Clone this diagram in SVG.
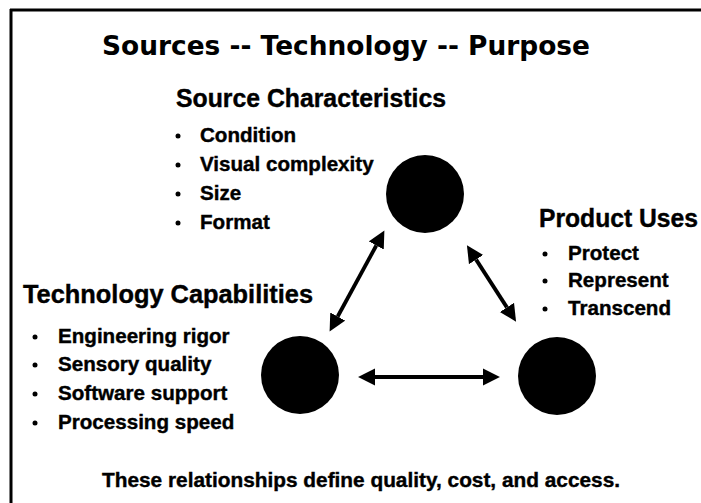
<svg xmlns="http://www.w3.org/2000/svg" width="701" height="503" viewBox="0 0 701 503">
<defs>
<style>
.t{font-family:"Liberation Sans",Arial,sans-serif;font-weight:bold;fill:#000;stroke:#000;stroke-width:0.4}
.h{font-size:25px}
.i{font-size:20.6px}
.title{font-family:"Comic Sans MS","DejaVu Sans",sans-serif;font-weight:bold;font-size:27px;fill:#000}
.node{fill:#000}
.b{fill:#000}
.arr{stroke:#000;stroke-width:3.8;fill:none;marker-start:url(#ah);marker-end:url(#ah)}
</style>
<marker id="ah" markerUnits="userSpaceOnUse" markerWidth="18" markerHeight="18" refX="0" refY="8" orient="auto-start-reverse" viewBox="0 0 17 16">
<path d="M0,0 L16,8 L0,16 Z" fill="#000"/>
</marker>
</defs>
<rect width="701" height="503" fill="#fff"/>
<path d="M10,10 H701 M11,9 V503" stroke="#000" stroke-width="3" fill="none"/>
<text class="title" x="102" y="55" textLength="488" lengthAdjust="spacingAndGlyphs">Sources -- Technology -- Purpose</text>

<g id="source">
<circle class="node" cx="425" cy="194" r="39"/>
<text class="t h" x="176" y="107" textLength="270" lengthAdjust="spacingAndGlyphs">Source Characteristics</text>
<circle class="b" cx="178" cy="136" r="2.5"/>
<circle class="b" cx="178" cy="165" r="2.5"/>
<circle class="b" cx="178" cy="194" r="2.5"/>
<circle class="b" cx="178" cy="223" r="2.5"/>
<text class="t i" x="200" y="142">Condition</text>
<text class="t i" x="200" y="171">Visual complexity</text>
<text class="t i" x="200" y="200">Size</text>
<text class="t i" x="200" y="229">Format</text>
</g>

<g id="technology">
<circle class="node" cx="300" cy="375" r="39"/>
<text class="t h" x="23" y="303" textLength="290" lengthAdjust="spacingAndGlyphs">Technology Capabilities</text>
<circle class="b" cx="35" cy="337" r="2.5"/>
<circle class="b" cx="35" cy="365" r="2.5"/>
<circle class="b" cx="35" cy="394" r="2.5"/>
<circle class="b" cx="35" cy="423" r="2.5"/>
<text class="t i" x="58" y="343">Engineering rigor</text>
<text class="t i" x="58" y="371">Sensory quality</text>
<text class="t i" x="58" y="400">Software support</text>
<text class="t i" x="58" y="429">Processing speed</text>
</g>

<g id="product">
<circle class="node" cx="557" cy="376" r="39"/>
<text class="t h" x="539" y="227" textLength="159" lengthAdjust="spacingAndGlyphs">Product Uses</text>
<circle class="b" cx="545" cy="254" r="2.5"/>
<circle class="b" cx="545" cy="281" r="2.5"/>
<circle class="b" cx="545" cy="309" r="2.5"/>
<text class="t i" x="568" y="260">Protect</text>
<text class="t i" x="568" y="287">Represent</text>
<text class="t i" x="568" y="315">Transcend</text>
</g>

<g id="connectors">
<path class="arr" d="M376.3,245.5 L337.7,316.5"/>
<path class="arr" d="M476.1,259.6 L506.9,307.4"/>
<path class="arr" d="M375,377 L483,377"/>
</g>

<text class="t i" x="102" y="487" textLength="518" lengthAdjust="spacingAndGlyphs">These relationships define quality, cost, and access.</text>
</svg>
